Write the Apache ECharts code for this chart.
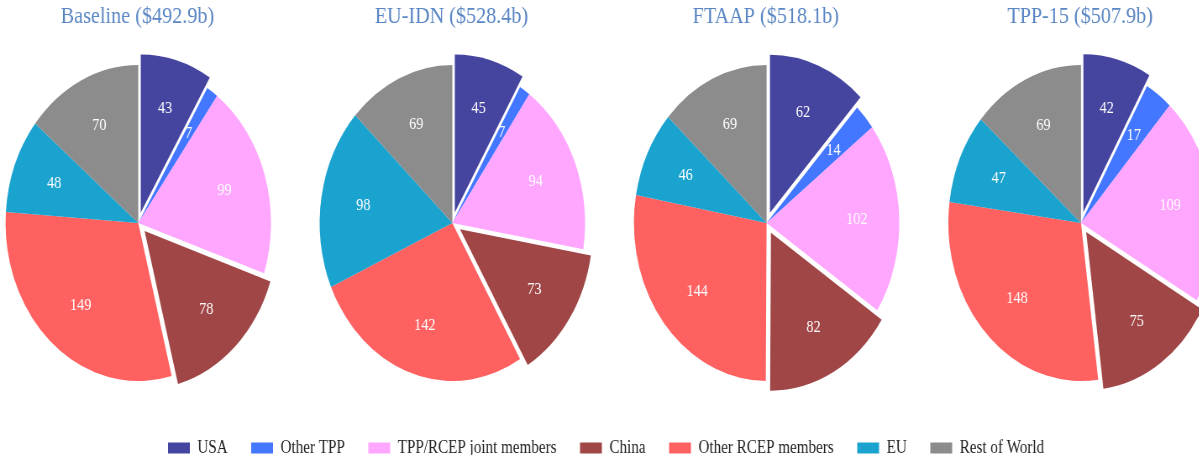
<!DOCTYPE html>
<html>
<head>
<meta charset="utf-8">
<script src="https://cdn.jsdelivr.net/npm/echarts@6/dist/echarts.min.js"></script>
<style>
	html, body { margin: 0; padding: 0; background: #fff; overflow: hidden; }
	#wrap { width: 1199px; height: 455px; overflow: hidden; }
	/* the reference is horizontally squeezed, so draw wide and scale down */
	#chart { width: 1427px; height: 455px; transform: scaleX(0.84); transform-origin: 0 0; }
</style>
</head>
<body>
<div id="wrap"><div id="chart"></div></div>
<script>
	const categories = ['USA', 'Other TPP', 'TPP/RCEP joint members', 'China', 'Other RCEP members', 'EU', 'Rest of World'];
	const colors = ['#4545a0', '#4477ff', '#ffa6ff', '#a04646', '#ff6161', '#1aa3cf', '#8c8c8c'];
	const scenarios = ['Baseline ($492.9b)', 'EU-IDN ($528.4b)', 'FTAAP ($518.1b)', 'TPP-15 ($507.9b)'];
	const baseline = [43, 7, 99, 78, 149, 48, 70];
	const euIdn = [45, 7, 94, 73, 142, 98, 69];
	const ftaap = [62, 14, 102, 82, 144, 46, 69];
	const tpp15 = [42, 17, 109, 75, 148, 47, 69];
	const exploded = ['USA', 'China'];

	const values = [baseline, euIdn, ftaap, tpp15];
	const centersX = [164.6, 538.5, 912.6, 1286.9];
	const centerY = 223;
	const serifFont = 'Liberation Serif';

	let chart = echarts.init(document.getElementById('chart'));

	let toData = function(vals){
		return categories.map(function(name, i){
			return { name: name, value: vals[i], selected: exploded.indexOf(name) >= 0 };
		});
	};

	let titles = [];
	let pies = [];
	let labelPies = [];

	scenarios.forEach(function(txt, k){
		titles.push({
			text: txt,
			left: centersX[k] - 6,
			top: 0,
			textAlign: 'center',
			textStyle: { fontFamily: serifFont, fontSize: 24, fontWeight: 'normal', color: '#5a86c4' }
		});

		pies.push({
			name: txt,
			type: 'pie',
			center: [centersX[k], centerY],
			radius: [0, 158],
			startAngle: 90,
			selectedMode: 'multiple',
			selectedOffset: 11,
			itemStyle: { borderWidth: 0 },
			label: { show: false },
			labelLine: { show: false },
			emphasis: { disabled: true },
			data: toData(values[k])
		});

		/* transparent twin pie, only to put the numbers at ~2/3 of the radius */
		labelPies.push({
			name: txt + ' labels',
			type: 'pie',
			silent: true,
			z: 3,
			center: [centersX[k], centerY],
			radius: [0, 209],
			startAngle: 90,
			selectedMode: 'multiple',
			selectedOffset: 11,
			itemStyle: { color: 'rgba(0,0,0,0)', borderWidth: 0 },
			select: { itemStyle: { color: 'rgba(0,0,0,0)', borderWidth: 0 } },
			label: {
				show: true,
				position: 'inside',
				formatter: '{c}',
				color: '#fff',
				fontFamily: serifFont,
				fontSize: 17
			},
			labelLine: { show: false },
			emphasis: { disabled: true },
			data: toData(values[k])
		});
	});

	chart.setOption({
		animation: false,
		color: colors,
		title: titles,
		legend: {
			data: categories,
			top: 434,
			left: 195,
			icon: 'rect',
			itemWidth: 26,
			itemHeight: 11,
			itemGap: 28,
			selectedMode: false,
			textStyle: { fontFamily: serifFont, fontSize: 18, color: '#222', padding: [0, 0, 0, 4] }
		},
		series: pies.concat(labelPies)
	});
</script>
</body>
</html>
